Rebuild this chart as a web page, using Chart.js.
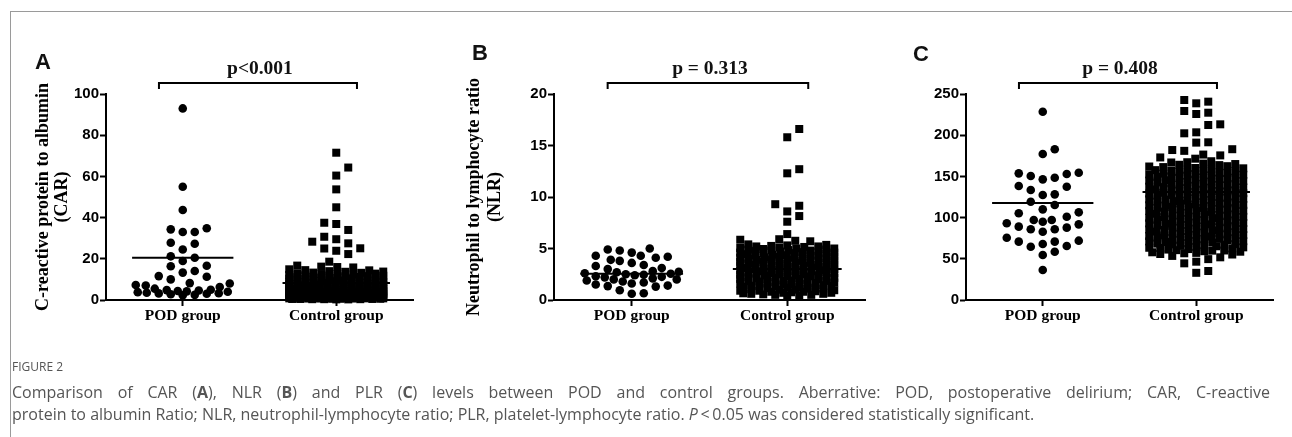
<!DOCTYPE html>
<html><head><meta charset="utf-8">
<script src="https://cdn.jsdelivr.net/npm/chart.js@4.4.1/dist/chart.umd.min.js"></script>
<style>
html,body{margin:0;padding:0;background:#fff;}
body{width:1292px;height:437px;position:relative;overflow:hidden;}
canvas{position:absolute;left:0;top:0;}
.frame{position:absolute;left:10px;top:11px;width:1290px;height:430px;border-top:1.5px solid #9a9a9a;border-left:1.5px solid #9a9a9a;}
.letter{position:absolute;font:bold 22px "Liberation Sans",Arial,sans-serif;line-height:22px;color:#111;}
.pval{position:absolute;font:bold 19.5px "Liberation Serif","Times New Roman",serif;transform:translate(-50%,-50%);white-space:nowrap;color:#111;}
.fig{position:absolute;left:12px;top:359px;font:12px "Open Sans",sans-serif;color:#555;line-height:16px;}
.cap{position:absolute;left:12px;font:16px "Open Sans",sans-serif;color:#555;line-height:22px;white-space:nowrap;}
.l1{top:381px;width:1258px;text-align:justify;text-align-last:justify;}
.l2{top:403px;}
</style>
</head><body>
<div class="frame"></div>
<canvas id="cA" width="1292" height="437"></canvas>
<canvas id="cB" width="1292" height="437"></canvas>
<canvas id="cC" width="1292" height="437"></canvas>
<div class="letter" style="left:35px;top:51px">A</div>
<div class="letter" style="left:472px;top:42px">B</div>
<div class="letter" style="left:913px;top:43px">C</div>
<div class="pval" id="pA"></div>
<div class="pval" id="pB"></div>
<div class="pval" id="pC"></div>
<div class="fig">FIGURE 2</div>
<div class="cap l1">Comparison of CAR (<b>A</b>), NLR (<b>B</b>) and PLR (<b>C</b>) levels between POD and control groups. Aberrative: POD, postoperative delirium; CAR, C-reactive</div>
<div class="cap l2">protein to albumin Ratio; NLR, neutrophil-lymphocyte ratio; PLR, platelet-lymphocyte ratio. <i>P</i>&thinsp;&lt;&thinsp;0.05 was considered statistically significant.</div>
<script>
// ---------- data ----------
const categories = ['POD group', 'Control group'];
const pValues = ['p<0.001', 'p = 0.313', 'p = 0.408'];

const carPOD = [93, 55, 43.7, 34.8, 34.3, 33, 33, 27.8, 27.3, 24.5, 21.2, 20.5, 18.9, 16.6, 16.4, 14.1, 13.3, 11.6, 11.3, 10,
  8.2, 8, 7.3, 7, 6.3, 5.5, 5, 4.8, 4.6, 4.4, 4.2, 4, 3.8, 3.5, 3.3, 3.2, 3, 2.8, 2.5, 2.3];
const carControl = [71.5, 64.3, 60.4, 53.7, 45.0, 37.5, 36.9, 34.0, 30.7, 29.5, 28.3, 27.5, 25.1, 25.0, 23.9, 22.3, 18.6, 16.7, 16.2, 16.0, 15.8,
  14.9, 14.5, 14.4, 14.0, 13.8, 13.7, 13.3, 13.2, 12.9, 12.8, 12.6, 12.5, 12.3, 12.2, 12.0, 11.9, 11.8, 11.6, 11.5, 11.3,
  11.2, 11.1, 10.9, 10.8, 10.7, 10.5, 10.4, 10.3, 10.1, 10.0, 9.9, 9.8, 9.6, 9.5, 9.5, 9.3, 9.2, 9.1, 8.9, 8.8,
  8.7, 8.6, 8.5, 8.4, 8.2, 8.1, 8.0, 7.9, 7.8, 7.7, 7.6, 7.5, 7.4, 7.3, 7.2, 7.1, 7.0, 6.9, 6.8, 6.7,
  6.6, 6.5, 6.5, 6.4, 6.3, 6.2, 6.1, 6.0, 6.0, 5.9, 5.8, 5.7, 5.7, 5.6, 5.5, 5.4, 5.4, 5.3, 5.2, 5.1,
  5.1, 5.0, 4.9, 4.9, 4.8, 4.7, 4.7, 4.6, 4.5, 4.5, 4.4, 4.3, 4.3, 4.2, 4.1, 4.1, 4.0, 3.9, 3.9, 3.8,
  3.8, 3.7, 3.7, 3.6, 3.5, 3.5, 3.4, 3.4, 3.3, 3.3, 3.2, 3.1, 3.1, 3.0, 3.0, 2.9, 2.9, 2.8, 2.8, 2.7,
  2.7, 2.6, 2.6, 2.5, 2.5, 2.4, 2.4, 2.3, 2.3, 2.2, 2.2, 2.1, 2.1, 2.0, 2.0, 1.9, 1.9, 1.8, 1.8, 1.7,
  1.7, 1.7, 1.6, 1.6, 1.5, 1.5, 1.5, 1.4, 1.4, 1.3, 1.3, 1.3, 1.2, 1.2, 1.1, 1.1, 1.1, 1.0, 1.0, 1.0,
  0.9, 0.9, 0.9, 0.8, 0.8, 0.8, 0.7, 0.7, 0.7, 0.6, 0.6, 0.6, 0.5, 0.5, 0.5, 0.4, 0.4, 0.4, 0.3, 0.3];
const carMeans = [20.5, 8.2];

const nlrPOD = [5.0, 4.9, 4.8, 4.6, 4.3, 4.3, 4.2, 4.1, 3.9, 3.8, 3.6, 3.4, 3.3, 3.1, 3.0, 2.8, 2.75, 2.7, 2.6, 2.55,
  2.5, 2.45, 2.4, 2.3, 2.25, 2.2, 2.1, 2.0, 2.0, 1.9, 1.8, 1.7, 1.6, 1.5, 1.4, 1.35, 1.3, 0.95, 0.65, 0.6];
const nlrControl = [16.6, 15.8, 12.7, 12.3, 9.3, 9.15, 8.6, 8.15, 7.6, 6.4, 5.9, 5.85, 5.75, 5.7,
  5.4, 5.35, 5.3, 5.25, 5.2, 5.2, 5.15, 5.1, 5.05, 5.0, 5.0, 4.95, 4.9, 4.9, 4.85, 4.8, 4.8, 4.75, 4.7, 4.7,
  4.65, 4.6, 4.6, 4.55, 4.5, 4.5, 4.45, 4.4, 4.4, 4.35, 4.3, 4.3, 4.25, 4.2, 4.2, 4.15, 4.1, 4.1, 4.05, 4.0,
  4.0, 3.95, 3.9, 3.9, 3.85, 3.8, 3.8, 3.75, 3.7, 3.7, 3.65, 3.6, 3.6, 3.55, 3.5, 3.5, 3.45, 3.4, 3.4, 3.35,
  3.3, 3.3, 3.25, 3.2, 3.2, 3.15, 3.1, 3.1, 3.05, 3.0, 3.0, 2.95, 2.9, 2.9, 2.85, 2.8, 2.8, 2.75, 2.7, 2.7,
  2.65, 2.6, 2.6, 2.55, 2.5, 2.5, 2.45, 2.4, 2.4, 2.35, 2.3, 2.3, 2.25, 2.2, 2.2, 2.15, 2.1, 2.1, 2.05, 2.0,
  2.0, 1.95, 1.9, 1.9, 1.85, 1.8, 1.8, 1.75, 1.7, 1.7, 1.65, 1.6, 1.6, 1.55, 1.5, 1.5, 1.45, 1.4, 1.4, 1.35,
  1.3, 1.3, 1.25, 1.2, 1.2, 1.15, 1.1, 1.1, 1.05, 1.0, 1.0, 0.95, 0.9, 0.9, 0.85, 0.8, 0.8, 0.75, 0.7, 0.7,
  0.65, 0.6, 0.6, 0.55, 0.5, 0.5, 0.45, 0.4];
const nlrMeans = [2.55, 3.0];

const plrPOD = [228.5, 182.9, 177.2, 154.5, 153.7, 152.9, 150.5, 148.4, 146.4, 138.4, 137.5, 133.5, 128.2, 127.4, 119.3, 115.3,
  110, 106.4, 105.2, 101.1, 97.1, 97.1, 95, 93.1, 91.8, 89, 87.8, 85.8, 85.8, 82.9, 75.6, 72, 70.8, 70.8, 68, 65.5, 64.7, 58.6, 54.6, 36.4];
const plrControl = [242.7, 240.7, 238.7, 229.4, 227.3, 225.7, 213.2, 212.4, 203.5, 202.3, 191.4, 191.0, 183.0, 182.0, 181.0, 176.5, 175.5, 173.0, 171.5,
  168.4, 167.2, 166.9, 165.5, 165.0, 164.1, 163.7, 162.4, 162.0, 161.3, 160.2, 159.8, 159.1, 158.0, 157.6, 156.9, 156.2, 155.4, 154.7, 154.1,
  153.3, 152.9, 152.0, 151.2, 150.9, 150.0, 149.4, 148.7, 148.1, 147.2, 146.8, 146.0, 145.3, 144.9, 143.8, 143.2, 142.7, 141.6, 141.0, 140.5,
  139.7, 139.0, 138.6, 137.5, 137.0, 136.3, 135.8, 134.9, 134.2, 133.8, 132.7, 132.3, 131.5, 130.9, 130.1, 129.6, 128.8, 128.0, 127.5, 126.7,
  126.2, 125.3, 124.9, 124.0, 123.4, 122.8, 121.9, 121.5, 120.6, 120.0, 119.4, 118.7, 118.1, 117.2, 116.8, 115.9, 115.3, 114.6, 114.0, 113.3,
  112.9, 112.0, 111.4, 110.8, 110.0, 109.5, 108.6, 108.1, 107.3, 106.9, 105.8, 105.2, 104.7, 103.9, 103.3, 102.5, 101.9, 101.2, 100.6, 99.8,
  99.3, 98.4, 97.9, 97.0, 96.6, 95.7, 95.1, 94.4, 93.9, 93.0, 92.4, 91.8, 91.1, 90.5, 89.6, 89.2, 88.3, 87.8, 87.0, 86.5,
  85.6, 85.0, 84.4, 83.7, 83.1, 82.3, 81.8, 80.9, 80.4, 79.6, 79.0, 78.3, 77.7, 77.0, 76.4, 75.7, 75.1, 74.3, 73.9, 73.0,
  72.5, 71.7, 71.1, 70.4, 69.8, 69.0, 68.5, 67.8, 67.1, 66.5, 65.7, 65.2, 64.4, 63.9, 63.1, 62.6, 61.8, 61.2, 60.5, 59.9,
  59.2, 58.6, 57.9, 57.2, 56.7, 55.8, 55.2,
  152.5, 156.6, 148.4, 144.4, 140.0, 136.6, 133.1, 129.2, 125.7, 122.2, 118.4, 114.9, 111.7, 108.3, 104.1, 100.9, 97.4,
  93.5, 90.0, 86.1, 82.7, 78.8, 74.9, 71.4, 67.5, 63.4, 60.1,
  53.5, 51.8, 49.6, 46.5, 44.5, 35.2, 33.0];
const plrMeans = [117.7, 131];

const yTitleA = ['C-reactive protein to albumin', '(CAR)'];
const yTitleB = ['Neutrophil to lymphocyte ratio', '(NLR)'];
const yAxisA = {max: 100, step: 20};
const yAxisB = {max: 20, step: 5};
const yAxisC = {max: 250, step: 50};

// ---------- drawing ----------
const SP = 12, COLS = 4, MAXH = 47, GAP = 9.5;
const bracketEnds = [0.845, 2.135];

const bracketPlugin = {
  id: 'bracket',
  afterDraw(chart) {
    const {ctx, chartArea, scales: {x}} = chart;
    const x1 = x.getPixelForValue(bracketEnds[0]), x2 = x.getPixelForValue(bracketEnds[1]);
    const y = chartArea.top - 11;
    ctx.save();
    ctx.strokeStyle = '#000'; ctx.lineWidth = 2;
    ctx.beginPath();
    ctx.moveTo(x1, y + 6); ctx.lineTo(x1, y); ctx.lineTo(x2, y); ctx.lineTo(x2, y + 6);
    ctx.stroke();
    ctx.restore();
  }
};

// column-based dot-plot layout (like a scatter-dot plot): each point goes to the
// nearest free column; when every column is taken it fills the least crowded spot.
function layoutOffsets(pys, size) {
  const order = pys.map((py, i) => i).sort((a, b) => pys[b] - pys[a]); // bottom first
  const cands = [0];
  for (let k = 1; k <= COLS; k++) cands.push(k * SP, -k * SP);
  const placed = [];
  const off = new Array(pys.length);
  order.forEach(i => {
    const py = pys[i];
    let best = null;
    for (const o of cands) {
      if (Math.abs(o) > MAXH) continue;
      if (!placed.some(q => Math.abs(q.o - o) < size && Math.abs(q.py - py) < GAP)) { best = o; break; }
    }
    if (best === null) {
      let score = Infinity;
      for (let o = -MAXH; o <= MAXH; o += 1) {
        let s = 0;
        for (const q of placed) {
          const dx = size - Math.abs(q.o - o), dy = size - Math.abs(q.py - py);
          if (dx > 0 && dy > 0) s += dx * dy;
        }
        s += Math.abs(o) * 0.01;
        if (s < score) { score = s; best = o; }
      }
    }
    off[i] = best;
    placed.push({o: best, py});
  });
  return off;
}

function makePanel(id, area, axisLeft, yCfg, title, titlePad, titleLH, pod, ctrl, means) {
  const ds = [
    {data: pod.map(v => ({x: 1, y: v})), swarm: 1, size: 8.6, pointStyle: 'circle', pointRadius: 4.3,
     backgroundColor: '#000', borderWidth: 0, clip: false},
    {data: ctrl.map(v => ({x: 2, y: v})), swarm: 2, size: 8, pointStyle: 'rect', pointRadius: 5.66,
     backgroundColor: '#000', borderWidth: 0, clip: false},
    {type: 'line', data: [{x: 0.67, y: means[0]}, {x: 1.33, y: means[0]}], borderColor: '#000', borderWidth: 2,
     pointRadius: 0, fill: false, clip: false},
    {type: 'line', data: [{x: 1.65, y: means[1]}, {x: 2.35, y: means[1]}], borderColor: '#000', borderWidth: 2,
     pointRadius: 0, fill: false, clip: false}
  ];
  const chart = new Chart(document.getElementById(id), {
    type: 'scatter',
    data: {datasets: ds},
    options: {
      responsive: false, animation: false, events: [],
      layout: {padding: {left: axisLeft, right: 1292 - area.right, top: area.top, bottom: 437 - area.bottom - 40}},
      plugins: {legend: {display: false}, tooltip: {enabled: false}},
      scales: {
        x: {
          type: 'linear', min: 0.5, max: 2.5,
          afterBuildTicks: s => { s.ticks = [{value: 1}, {value: 2}]; },
          afterFit: s => { s.height = 40; },
          ticks: {callback: v => categories[Math.round(v) - 1], color: '#000', padding: 1, maxRotation: 0, autoSkip: false,
                  font: {family: '"Liberation Serif", "Times New Roman", serif', size: 15.5, weight: 'bold'}},
          grid: {drawOnChartArea: false, tickLength: 6, tickWidth: 2, tickColor: '#000'},
          border: {color: '#000', width: 2}
        },
        y: {
          min: 0, max: yCfg.max,
          afterFit: s => { s.width = area.left - axisLeft; },
          ticks: {stepSize: yCfg.step, color: '#000', padding: 1,
                  font: {family: '"Liberation Sans", Arial, sans-serif', size: 15, weight: 'bold'}},
          grid: {drawOnChartArea: false, tickLength: 6, tickWidth: 2, tickColor: '#000'},
          border: {color: '#000', width: 2},
          title: {display: !!title, text: title || '', color: '#000', padding: {top: titlePad, bottom: 0},
                  font: {family: '"Liberation Serif", "Times New Roman", serif', size: 18, weight: 'bold', lineHeight: titleLH}}
        }
      }
    },
    plugins: [bracketPlugin]
  });
  const xs = chart.scales.x, ys = chart.scales.y;
  const ppu = xs.getPixelForValue(2) - xs.getPixelForValue(1);
  chart.data.datasets.forEach(d => {
    if (!d.swarm) return;
    const vals = d.data.map(p => p.y);
    const off = layoutOffsets(vals.map(v => ys.getPixelForValue(v)), d.size);
    d.data = vals.map((v, i) => ({x: d.swarm + off[i] / ppu, y: v}));
  });
  chart.update('none');
  return chart;
}

const charts = [
  makePanel('cA', {left: 106, right: 413, top: 94, bottom: 300}, 20, yAxisA, yTitleA, 13.5, 1.05, carPOD, carControl, carMeans),
  makePanel('cB', {left: 554, right: 865, top: 94, bottom: 300}, 450, yAxisB, yTitleB, 13.2, 1.2, nlrPOD, nlrControl, nlrMeans),
  makePanel('cC', {left: 966, right: 1273, top: 94, bottom: 300}, 900, yAxisC, null, 0, 1.2, plrPOD, plrControl, plrMeans)
];
['pA', 'pB', 'pC'].forEach((id, i) => {
  const c = charts[i], x = c.scales.x;
  const el = document.getElementById(id);
  el.textContent = pValues[i];
  el.style.left = ((x.getPixelForValue(bracketEnds[0]) + x.getPixelForValue(bracketEnds[1])) / 2 + 2) + 'px';
  el.style.top = (c.chartArea.top - 26) + 'px';
});
</script>
</body></html>
